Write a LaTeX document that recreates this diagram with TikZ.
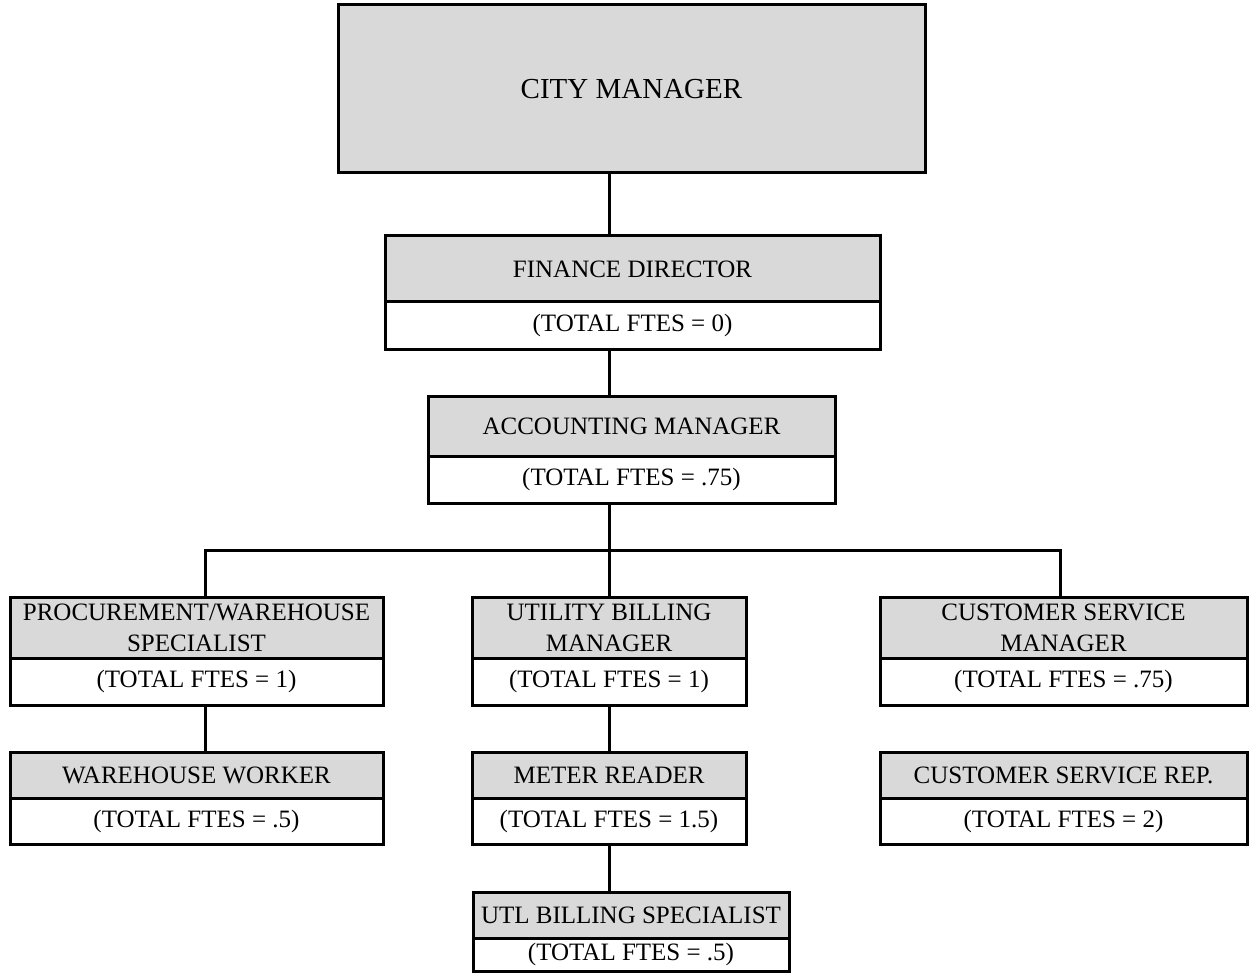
\documentclass[tikz,border=0pt]{standalone}
\usepackage{fontspec}
\setmainfont{Liberation Serif}
\definecolor{boxgray}{HTML}{D9D9D9}
\tikzset{
  box/.style={draw=black, line width=3pt, inner sep=0pt, outer sep=0pt,
    align=center, anchor=north west, font=\fontsize{25}{31}\selectfont},
  hdr/.style={box, fill=boxgray},
  body/.style={box, fill=white},
  conn/.style={draw=black, line width=3pt},
}
\begin{document}
\begin{tikzpicture}[x=1pt, y=-1pt]
\useasboundingbox (0,0) rectangle (1249,973);

% column guides for the connectors
\coordinate (spine) at (609,0);
\coordinate (busL) at (205,550);
\coordinate (busR) at (1060,550);

% top level
\node[hdr, minimum width=587pt, minimum height=168pt,
      font=\fontsize{29}{34}\selectfont] (cm) at (338,5) {CITY MANAGER};

\node[hdr,  minimum width=495pt, minimum height=66pt] (fd)  at (385,236) {FINANCE DIRECTOR};
\node[body, minimum width=495pt, minimum height=47pt] (fdb) at (385,302) {(TOTAL FTES = 0)};

\node[hdr,  minimum width=407pt, minimum height=60pt] (am)  at (428,396) {ACCOUNTING MANAGER};
\node[body, minimum width=407pt, minimum height=47pt] (amb) at (428,456) {(TOTAL FTES = .75)};

% third row
\node[hdr,  minimum width=373pt, minimum height=61pt] (pr)  at (10,597) {PROCUREMENT/WAREHOUSE\\SPECIALIST};
\node[body, minimum width=373pt, minimum height=47pt] (prb) at (10,658) {(TOTAL FTES = 1)};

\node[hdr,  minimum width=274pt, minimum height=61pt] (ub)  at (472,597) {UTILITY BILLING\\MANAGER};
\node[body, minimum width=274pt, minimum height=47pt] (ubb) at (472,658) {(TOTAL FTES = 1)};

\node[hdr,  minimum width=367pt, minimum height=61pt] (cs)  at (880,597) {CUSTOMER SERVICE\\MANAGER};
\node[body, minimum width=367pt, minimum height=47pt] (csb) at (880,658) {(TOTAL FTES = .75)};

% fourth row
\node[hdr,  minimum width=373pt, minimum height=46pt] (ww)  at (10,752) {WAREHOUSE WORKER};
\node[body, minimum width=373pt, minimum height=46pt] (wwb) at (10,798) {(TOTAL FTES = .5)};

\node[hdr,  minimum width=274pt, minimum height=46pt] (mr)  at (472,752) {METER READER};
\node[body, minimum width=274pt, minimum height=46pt] (mrb) at (472,798) {(TOTAL FTES = 1.5)};

\node[hdr,  minimum width=367pt, minimum height=46pt] (cr)  at (880,752) {CUSTOMER SERVICE REP.};
\node[body, minimum width=367pt, minimum height=46pt] (crb) at (880,798) {(TOTAL FTES = 2)};

% fifth row
\node[hdr,  minimum width=316pt, minimum height=46pt] (utl)  at (473,892) {UTL BILLING SPECIALIST};
\node[body, minimum width=316pt, minimum height=33pt] (utlb) at (473,938) {(TOTAL FTES = .5)};

% reporting lines
\draw[conn] (cm.south -| spine) -- (fd.north -| spine);
\draw[conn] (fdb.south -| spine) -- (am.north -| spine);
\draw[conn] (amb.south -| spine) -- (ub.north -| spine);
\draw[conn] (pr.north -| busL) -- (busL) -- (busR) -- (cs.north -| busR);
\draw[conn] (prb.south -| busL) -- (ww.north -| busL);
\draw[conn] (ubb.south -| spine) -- (mr.north -| spine);
\draw[conn] (mrb.south -| spine) -- (utl.north -| spine);
\end{tikzpicture}
\end{document}
